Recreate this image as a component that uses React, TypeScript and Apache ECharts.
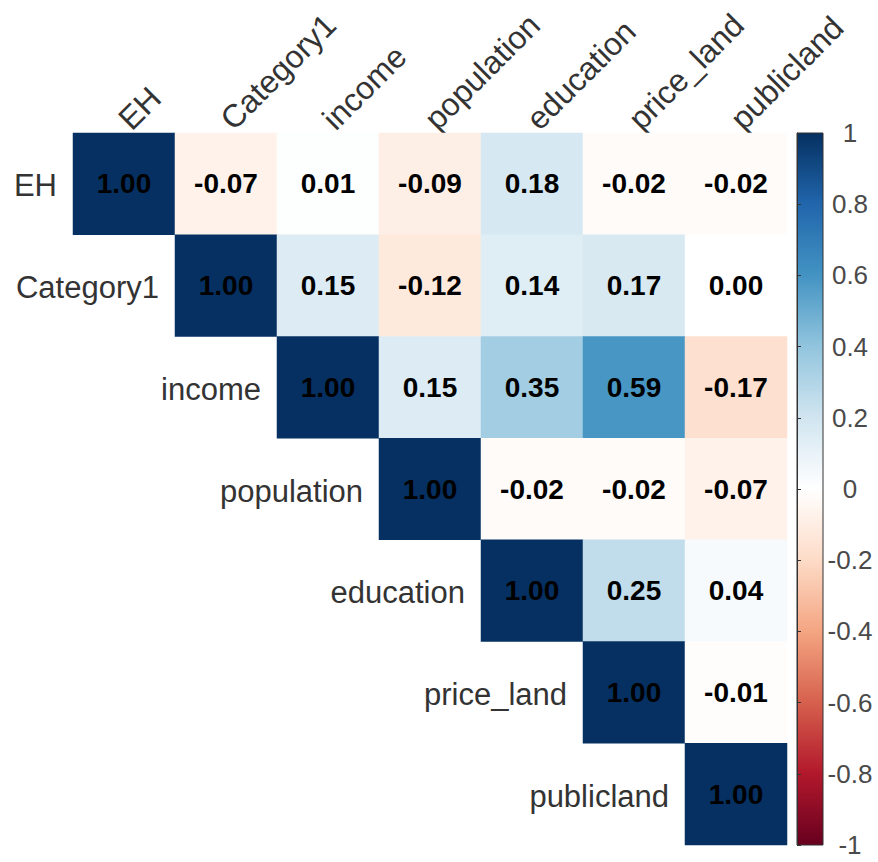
import React, { useEffect, useRef } from "react";
import * as echarts from "echarts";

// Variables in matrix order (rows top→bottom, columns left→right)
const variables = ["EH", "Category1", "income", "population", "education", "price_land", "publicland"];

// Upper triangle of the correlation matrix, each row starting at its diagonal
const rowEH = [1.0, -0.07, 0.01, -0.09, 0.18, -0.02, -0.02];
const rowCategory1 = [1.0, 0.15, -0.12, 0.14, 0.17, 0.0];
const rowIncome = [1.0, 0.15, 0.35, 0.59, -0.17];
const rowPopulation = [1.0, -0.02, -0.02, -0.07];
const rowEducation = [1.0, 0.25, 0.04];
const rowPriceLand = [1.0, -0.01];
const rowPublicland = [1.0];
const upperRows = [rowEH, rowCategory1, rowIncome, rowPopulation, rowEducation, rowPriceLand, rowPublicland];

// Diverging red–white–blue palette from -1 to 1
const paletteRdBu = [
  "#67001F", "#B2182B", "#D6604D", "#F4A582", "#FDDBC7", "#FFFFFF",
  "#D1E5F0", "#92C5DE", "#4393C3", "#2166AC", "#053061",
];

// Colour bar scale
const scaleMin = -1;
const scaleMax = 1;
const scaleStep = 0.2;

const FONT = "'Liberation Sans', Arial, Helvetica, sans-serif";

export default function App() {
  const ref = useRef<HTMLDivElement>(null);

  useEffect(() => {
    if (!ref.current) return;
    const chart = echarts.init(ref.current, undefined, { renderer: "svg" });

    const cells: [number, number, number][] = [];
    upperRows.forEach((row, i) => {
      row.forEach((v, k) => cells.push([i + k, i, v]));
    });

    chart.setOption({
      animation: false,
      backgroundColor: "#ffffff",
      grid: [
        { left: 73, top: 133, width: 714, height: 712 },
        { left: 797, top: 133, width: 26, height: 712 },
      ],
      xAxis: [
        {
          type: "category",
          gridIndex: 0,
          data: variables,
          position: "top",
          axisLine: { show: false },
          axisTick: { show: false },
          axisLabel: { show: false },
          splitLine: { show: false },
        },
        {
          type: "value",
          gridIndex: 1,
          show: false,
          min: 0,
          max: 1,
        },
      ],
      yAxis: [
        {
          type: "category",
          gridIndex: 0,
          data: variables,
          inverse: true,
          axisLine: { show: false },
          axisTick: { show: false },
          axisLabel: { show: false },
          splitLine: { show: false },
        },
        {
          type: "value",
          gridIndex: 1,
          position: "right",
          min: scaleMin,
          max: scaleMax,
          interval: scaleStep,
          axisLine: { show: true, lineStyle: { color: "#333333", width: 1 } },
          axisTick: { show: true, length: 4, lineStyle: { color: "#333333" } },
          splitLine: { show: false },
          axisLabel: {
            show: true,
            showMinLabel: true,
            showMaxLabel: true,
            align: "center",
            margin: 27,
            fontSize: 26,
            fontFamily: FONT,
            color: "#4a4a4a",
            formatter: (v: number) => String(Math.round(v * 10) / 10),
          },
        },
      ],
      visualMap: {
        show: false,
        type: "continuous",
        min: scaleMin,
        max: scaleMax,
        dimension: 2,
        seriesIndex: 0,
        inRange: { color: paletteRdBu },
      },
      series: [
        {
          type: "heatmap",
          xAxisIndex: 0,
          yAxisIndex: 0,
          data: cells,
          itemStyle: { borderWidth: 0 },
          emphasis: { disabled: true },
          label: {
            show: true,
            formatter: (p: any) => (p.value[2] as number).toFixed(2),
            fontSize: 28,
            fontWeight: "bold",
            fontFamily: FONT,
            color: "#000000",
          },
        },
      ],
    });

    // Label and colour-bar placement derived from the axes
    const c00 = chart.convertToPixel({ gridIndex: 0 }, [0, 0]) as number[];
    const c11 = chart.convertToPixel({ gridIndex: 0 }, [1, 1]) as number[];
    const cellW = c11[0] - c00[0];
    const cellH = c11[1] - c00[1];
    const gridTop = c00[1] - cellH / 2;

    const barTop = chart.convertToPixel({ yAxisIndex: 1 }, scaleMax) as number;
    const barBottom = chart.convertToPixel({ yAxisIndex: 1 }, scaleMin) as number;
    const barLeft = chart.convertToPixel({ xAxisIndex: 1 }, 0) as number;
    const barRight = chart.convertToPixel({ xAxisIndex: 1 }, 1) as number;

    const graphics: any[] = [];

    variables.forEach((name, j) => {
      const p = chart.convertToPixel({ gridIndex: 0 }, [j, j]) as number[];
      // column labels, rotated above the matrix
      graphics.push({
        type: "text",
        x: p[0],
        y: gridTop - 9,
        rotation: Math.PI / 4,
        style: {
          text: name,
          font: `32px ${FONT}`,
          fill: "#333333",
          align: "left",
          verticalAlign: "middle",
        },
      });
      // row labels, just left of each diagonal cell
      graphics.push({
        type: "text",
        x: p[0] - cellW / 2 - 16,
        y: p[1] + 2,
        style: {
          text: name,
          font: `31px ${FONT}`,
          fill: "#333333",
          align: "right",
          verticalAlign: "middle",
        },
      });
    });

    const stops = paletteRdBu
      .slice()
      .reverse()
      .map((color, k) => ({ offset: k / (paletteRdBu.length - 1), color }));

    graphics.push({
      type: "rect",
      z: -1,
      shape: { x: barLeft, y: barTop, width: barRight - barLeft, height: barBottom - barTop },
      style: {
        fill: new echarts.graphic.LinearGradient(0, 0, 0, 1, stops),
        stroke: "#333333",
        lineWidth: 1,
      },
    });

    chart.setOption({ graphic: graphics });

    return () => chart.dispose();
  }, []);

  return (
    <div
      ref={ref}
      style={{ position: "absolute", left: 0, top: 0, width: 878, height: 862, background: "#ffffff" }}
    />
  );
}
